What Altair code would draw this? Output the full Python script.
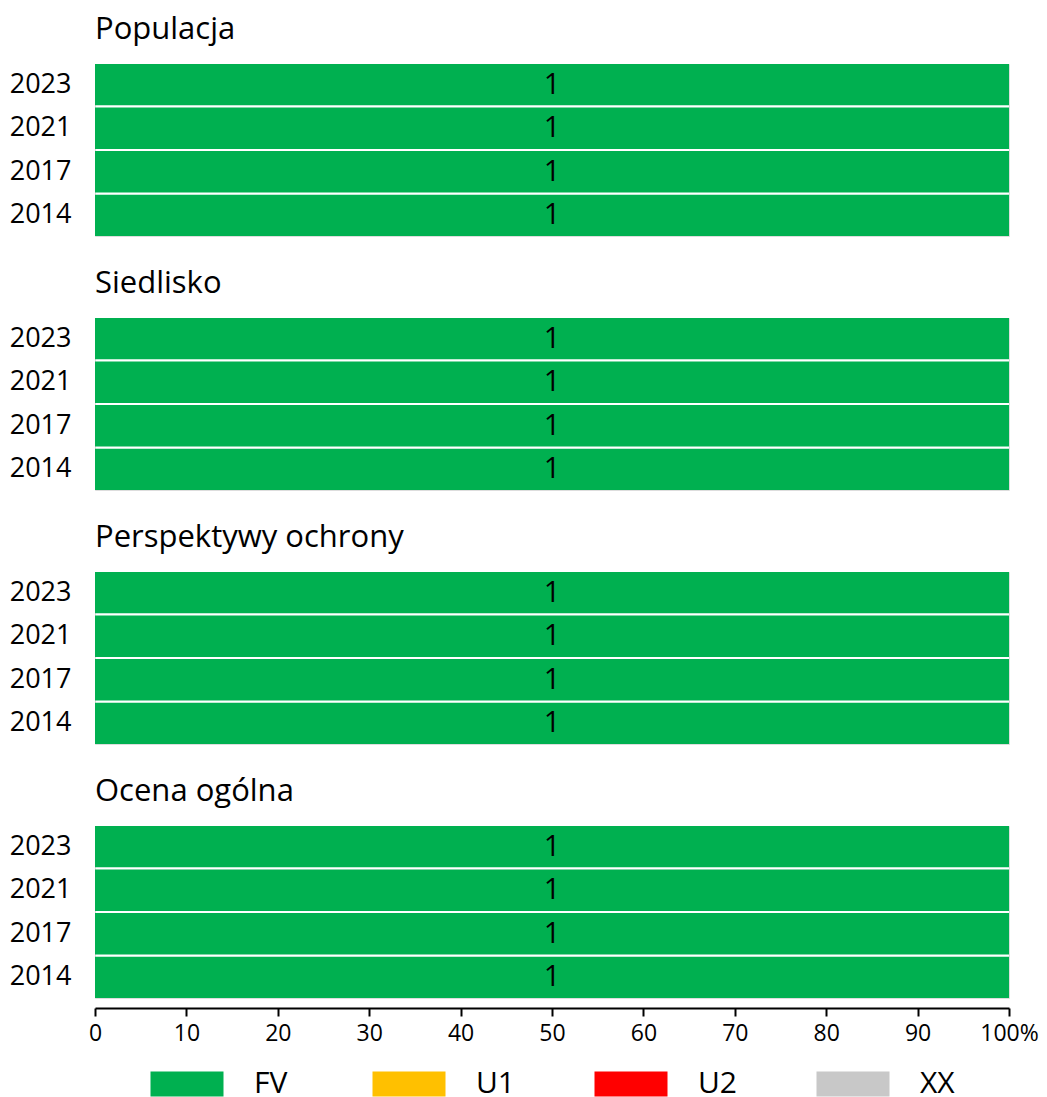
import altair as alt
import pandas as pd

panels = ["Populacja", "Siedlisko", "Perspektywy ochrony", "Ocena ogólna"]
years = ["2023", "2021", "2017", "2014"]
categories = ["FV", "U1", "U2", "XX"]
colors = ["#00B050", "#FFC000", "#FF0000", "#C8C8C8"]

# counts per panel, per year (order of `years`), per category
fv_counts = {
    "Populacja": [1, 1, 1, 1],
    "Siedlisko": [1, 1, 1, 1],
    "Perspektywy ochrony": [1, 1, 1, 1],
    "Ocena ogólna": [1, 1, 1, 1],
}
u1_counts = {p: [0, 0, 0, 0] for p in panels}
u2_counts = {p: [0, 0, 0, 0] for p in panels}
xx_counts = {p: [0, 0, 0, 0] for p in panels}

series = {"FV": fv_counts, "U1": u1_counts, "U2": u2_counts, "XX": xx_counts}

rows = []
for p in panels:
    for i, y in enumerate(years):
        for k, c in enumerate(categories):
            rows.append({"panel": p, "year": y, "category": c, "order": k,
                         "count": series[c][p][i]})
df = pd.DataFrame(rows)

FONT = "Open Sans"


def panel_chart(p, last):
    base = (
        alt.Chart(df)
        .transform_filter(alt.datum.panel == p)
        .transform_stack(stack="count", groupby=["panel", "year"], as_=["s0", "s1"],
                         offset="normalize", sort=[alt.SortField("order")])
        .transform_calculate(p0="datum.s0*100", p1="datum.s1*100",
                             pm="(datum.s0+datum.s1)*50")
    )
    if last:
        xaxis = alt.Axis(values=list(range(0, 101, 10)), labelExpr="datum.value == 100 ? '100%' : datum.label",
                         title=None, grid=False, offset=10, domainColor="black", domainWidth=2,
                         tickColor="black", tickWidth=2, tickSize=8, labelFontSize=23,
                         labelColor="black", labelPadding=6, labelFont=FONT,
                         labelFlush=False, labelOverlap=False, labelBound=False)
    else:
        xaxis = None
    yenc = alt.Y("year:N", sort=years, title=None,
                 scale=alt.Scale(paddingInner=0.05, paddingOuter=0),
                 axis=alt.Axis(domain=False, ticks=False, labelFontSize=27, labelPadding=24,
                               labelColor="black", labelFont=FONT))
    bars = base.mark_bar().encode(
        x=alt.X("p0:Q", scale=alt.Scale(domain=[0, 100], nice=False), axis=xaxis),
        x2="p1:Q",
        y=yenc,
        color=alt.Color("category:N", scale=alt.Scale(domain=categories, range=colors),
                        legend=alt.Legend(title=None, orient="none", legendX=77, legendY=1005,
                                          direction="horizontal", columns=4, gridAlign="all",
                                          symbolType="M-2.92,-1H2.92V1H-2.92Z", symbolSize=625,
                                          symbolStrokeWidth=0, symbolOpacity=1,
                                          labelFontSize=30, labelOffset=52, columnPadding=78,
                                          labelColor="black", labelFont=FONT)),
    )
    text = base.transform_filter(alt.datum["count"] > 0).mark_text(
        fontSize=29, color="black", font=FONT, baseline="middle", align="center"
    ).encode(
        x=alt.X("pm:Q"),
        y=alt.Y("year:N", sort=years),
        text=alt.Text("count:Q"),
    )
    return (bars + text).properties(
        width=914, height=172,
        title=alt.TitleParams(p, anchor="start", frame="group", fontSize=31, font=FONT,
                              fontWeight="normal", color="black", baseline="alphabetic",
                              offset=-6),
    )


charts = [panel_chart(p, i == len(panels) - 1) for i, p in enumerate(panels)]
chart = alt.vconcat(*charts, spacing=30).properties(
    padding={"left": 0, "top": 5, "right": 0, "bottom": 0}
).configure_view(stroke=None).configure(font=FONT)

chart.save("out.html", embed_options={"renderer": "svg", "actions": False})
